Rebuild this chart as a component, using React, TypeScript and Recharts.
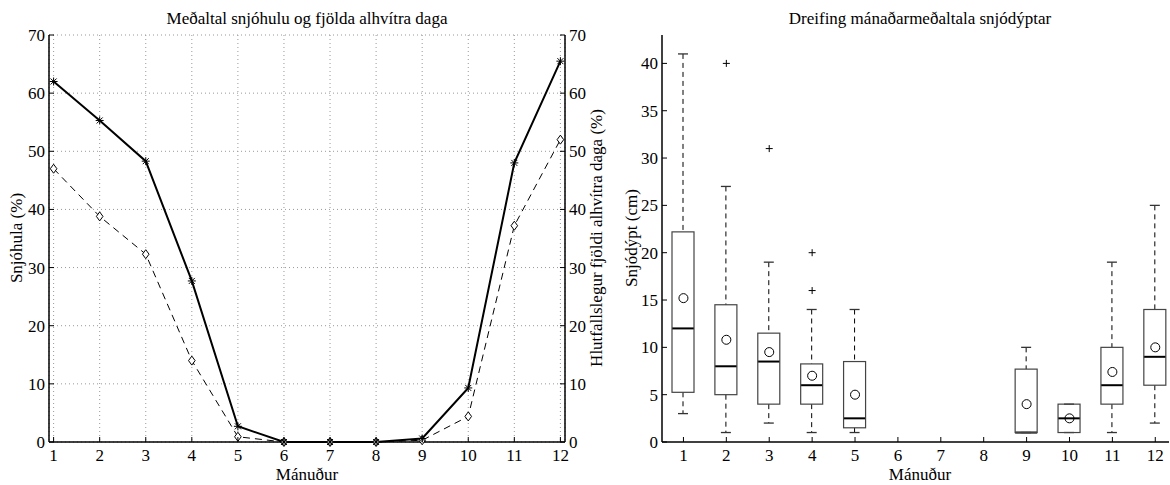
import React from 'react';
import { LineChart, Line, XAxis, YAxis, CartesianGrid, ComposedChart, Bar, Scatter } from 'recharts';

const FONT = '"Liberation Serif", "Times New Roman", serif';

// left: monthly mean snow cover and share of fully white days (%)
const months = [1, 2, 3, 4, 5, 6, 7, 8, 9, 10, 11, 12];
const snowCover = [62, 55.3, 48.3, 27.7, 2.7, 0, 0, 0, 0.6, 9.3, 48, 65.5];
const whiteDays = [47, 38.8, 32.3, 14, 0.9, 0, 0, 0, 0.3, 4.4, 37.2, 52];
const pctTicks = [0, 10, 20, 30, 40, 50, 60, 70];

// right: box plot stats of monthly mean snow depth (cm), null = no data
const whiskerLow = [3, 1, 2, 1, 1, null, null, null, 1, 1, 1, 2];
const q1 = [5.25, 5, 4, 4, 1.5, null, null, null, 1, 1, 4, 6];
const median = [12, 8, 8.5, 6, 2.5, null, null, null, 1, 2.5, 6, 9];
const q3 = [22.2, 14.5, 11.5, 8.25, 8.5, null, null, null, 7.7, 4, 10, 14];
const whiskerHigh = [41, 27, 19, 14, 14, null, null, null, 10, 4, 19, 25];
const means = [15.2, 10.8, 9.5, 7, 5, null, null, null, 4, 2.5, 7.4, 10];
const outlierMonths = [2, 3, 4, 4];
const outlierValues = [40, 31, 20, 16];
const depthTicks = [0, 5, 10, 15, 20, 25, 30, 35, 40];

const lineData = months.map((m, i) => ({ m, cover: snowCover[i], white: whiteDays[i] }));

const boxData = months.map((m, i) => ({
  m,
  range: whiskerLow[i] == null ? null : [whiskerLow[i], whiskerHigh[i]],
  lo: whiskerLow[i],
  q1: q1[i],
  med: median[i],
  q3: q3[i],
  hi: whiskerHigh[i],
}));
const meanData = months
  .map((m, i) => ({ m, mean: means[i] }))
  .filter((d) => d.mean != null);
const outlierData = outlierMonths.map((m, i) => ({ m, v: outlierValues[i] }));

const FS = 17;
const TL = 5; // inward tick length
const BM = 7; // bottom tick margin
const SM = 4; // side tick margin

const BottomTick = ({ x, y, payload }: any) => (
  <g>
    <line x1={x} x2={x} y1={y - BM} y2={y - BM - TL} stroke="#000" />
    <text x={x} y={y} dy="0.71em" textAnchor="middle" fontSize={FS} fontFamily={FONT} fill="#000">
      {payload.value}
    </text>
  </g>
);

const TopTick = ({ x, y }: any) => <line x1={x} x2={x} y1={y} y2={y + TL} stroke="#000" />;

const LeftTick = ({ x, y, payload }: any) => (
  <g>
    <line x1={x + SM} x2={x + SM + TL} y1={y} y2={y} stroke="#000" />
    <text x={x} y={y} dy="0.35em" textAnchor="end" fontSize={FS} fontFamily={FONT} fill="#000">
      {payload.value}
    </text>
  </g>
);

const RightTick = ({ x, y, payload }: any) => (
  <g>
    <line x1={x - SM} x2={x - SM - TL} y1={y} y2={y} stroke="#000" />
    <text x={x} y={y} dy="0.35em" textAnchor="start" fontSize={FS} fontFamily={FONT} fill="#000">
      {payload.value}
    </text>
  </g>
);

const Star = (p: any) => {
  const { cx, cy } = p;
  if (cx == null || cy == null) return <g />;
  return (
    <g stroke="#000" strokeWidth={1}>
      <line x1={cx - 4} x2={cx + 4} y1={cy} y2={cy} />
      <line x1={cx} x2={cx} y1={cy - 4} y2={cy + 4} />
      <line x1={cx - 3} y1={cy - 3} x2={cx + 3} y2={cy + 3} />
      <line x1={cx - 3} y1={cy + 3} x2={cx + 3} y2={cy - 3} />
    </g>
  );
};

const Diamond = (p: any) => {
  const { cx, cy } = p;
  if (cx == null || cy == null) return <g />;
  return (
    <polygon
      points={`${cx},${cy - 4.5} ${cx + 3.3},${cy} ${cx},${cy + 4.5} ${cx - 3.3},${cy}`}
      fill="#fff"
      stroke="#000"
      strokeWidth={1}
    />
  );
};

const BoxShape = (props: any) => {
  const { x, y, width, height, payload } = props;
  if (!payload || payload.q1 == null) return <g />;
  const top = Math.min(y, y + height);
  const h = Math.abs(height);
  const k = h / (payload.hi - payload.lo);
  const py = (v: number) => top + (payload.hi - v) * k;
  const cx = x + width / 2;
  const cap = 5;
  return (
    <g>
      <line x1={cx} x2={cx} y1={py(payload.hi)} y2={py(payload.q3)} stroke="#000" strokeDasharray="5 4" />
      <line x1={cx} x2={cx} y1={py(payload.q1)} y2={py(payload.lo)} stroke="#000" strokeDasharray="5 4" />
      <line x1={cx - cap} x2={cx + cap} y1={py(payload.hi)} y2={py(payload.hi)} stroke="#333" strokeWidth={1.3} />
      <line x1={cx - cap} x2={cx + cap} y1={py(payload.lo)} y2={py(payload.lo)} stroke="#333" strokeWidth={1.3} />
      <line x1={x} x2={x + width} y1={py(payload.med)} y2={py(payload.med)} stroke="#000" strokeWidth={2} />
      <rect x={x} y={py(payload.q3)} width={width} height={py(payload.q1) - py(payload.q3)} fill="none" stroke="#444" strokeWidth={1.2} />
    </g>
  );
};

const MeanCircle = (p: any) => <circle cx={p.cx} cy={p.cy} r={4.5} fill="none" stroke="#000" strokeWidth={1} />;

const Plus = (p: any) => (
  <g stroke="#000" strokeWidth={1}>
    <line x1={p.cx - 3.5} x2={p.cx + 3.5} y1={p.cy} y2={p.cy} />
    <line x1={p.cx} x2={p.cx} y1={p.cy - 3.5} y2={p.cy + 3.5} />
  </g>
);

const axisLine = { stroke: '#000', strokeWidth: 1.5 };

export default function App() {
  return (
    <div style={{ position: 'absolute', left: 0, top: 0, width: 1170, height: 485, background: '#fff' }}>
      <div style={{ position: 'absolute', left: 0, top: 0 }}>
        <LineChart width={605} height={485} data={lineData} margin={{ top: 35, right: 5, bottom: 13, left: 0 }}>
          <CartesianGrid xAxisId="b" yAxisId="l" stroke="#999" strokeDasharray="1 3" />
          <XAxis
            xAxisId="b"
            dataKey="m"
            type="number"
            domain={[0.9, 12.1]}
            ticks={months}
            height={30}
            tickSize={0}
            tickLine={false}
            tickMargin={BM}
            axisLine={axisLine}
            tick={<BottomTick />}
            interval={0}
          />
          <XAxis
            xAxisId="t"
            orientation="top"
            dataKey="m"
            type="number"
            domain={[0.9, 12.1]}
            ticks={months}
            height={0}
            tickSize={0}
            tickLine={false}
            tickMargin={0}
            axisLine={axisLine}
            tick={<TopTick />}
            interval={0}
          />
          <YAxis
            yAxisId="l"
            domain={[0, 70]}
            ticks={pctTicks}
            width={49}
            tickSize={0}
            tickLine={false}
            tickMargin={SM}
            axisLine={axisLine}
            tick={<LeftTick />}
            interval={0}
          />
          <YAxis
            yAxisId="r"
            orientation="right"
            domain={[0, 70]}
            ticks={pctTicks}
            width={35}
            tickSize={0}
            tickLine={false}
            tickMargin={SM}
            axisLine={axisLine}
            tick={<RightTick />}
            interval={0}
          />
          <Line
            xAxisId="b"
            yAxisId="r"
            dataKey="white"
            stroke="#000"
            strokeWidth={1}
            strokeDasharray="7 5"
            dot={<Diamond />}
            isAnimationActive={false}
            type="linear"
          />
          <Line
            xAxisId="b"
            yAxisId="l"
            dataKey="cover"
            stroke="#000"
            strokeWidth={2}
            dot={<Star />}
            isAnimationActive={false}
            type="linear"
          />
        </LineChart>
      </div>

      <div style={{ position: 'absolute', left: 605, top: 0 }}>
        <ComposedChart width={565} height={485} data={boxData} margin={{ top: 35, right: 1, bottom: 13, left: 0 }}>
          <XAxis
            dataKey="m"
            type="number"
            domain={[0.5, 12.32]}
            ticks={months}
            height={30}
            tickSize={0}
            tickLine={false}
            tickMargin={BM}
            axisLine={axisLine}
            tick={<BottomTick />}
            interval={0}
            allowDataOverflow
          />
          <XAxis
            xAxisId="t"
            orientation="top"
            dataKey="m"
            type="number"
            domain={[0.5, 12.32]}
            ticks={months}
            height={0}
            tickSize={0}
            tickLine={false}
            tickMargin={0}
            axisLine={axisLine}
            tick={<TopTick />}
            interval={0}
            allowDataOverflow
          />
          <YAxis
            domain={[0, 43]}
            ticks={depthTicks}
            width={57}
            tickSize={0}
            tickLine={false}
            tickMargin={SM}
            axisLine={axisLine}
            tick={<LeftTick />}
            interval={0}
            allowDataOverflow
          />
          <Bar dataKey="range" barSize={22} shape={<BoxShape />} isAnimationActive={false} />
          <Scatter data={meanData} dataKey="mean" shape={<MeanCircle />} isAnimationActive={false} />
          <Scatter data={outlierData} dataKey="v" shape={<Plus />} isAnimationActive={false} />
        </ComposedChart>
      </div>

      <svg
        width={1170}
        height={485}
        style={{ position: 'absolute', left: 0, top: 0, pointerEvents: 'none' }}
        fontFamily={FONT}
        fill="#000"
      >
        <text x={307} y={24} textAnchor="middle" fontSize={FS}>Meðaltal snjóhulu og fjölda alhvítra daga</text>
        <text x={920} y={24} textAnchor="middle" fontSize={FS}>Dreifing mánaðarmeðaltala snjódýptar</text>
        <text x={307} y={480} textAnchor="middle" fontSize={FS}>Mánuður</text>
        <text x={920} y={480} textAnchor="middle" fontSize={FS}>Mánuður</text>
        <text x={0} y={0} textAnchor="middle" fontSize={FS} transform="translate(22,238) rotate(-90)">Snjóhula (%)</text>
        <text x={0} y={0} textAnchor="middle" fontSize={FS} transform="translate(602,238) rotate(-90)">Hlutfallslegur fjöldi alhvítra daga (%)</text>
        <text x={0} y={0} textAnchor="middle" fontSize={FS} transform="translate(637,238) rotate(-90)">Snjódýpt (cm)</text>
      </svg>
    </div>
  );
}
